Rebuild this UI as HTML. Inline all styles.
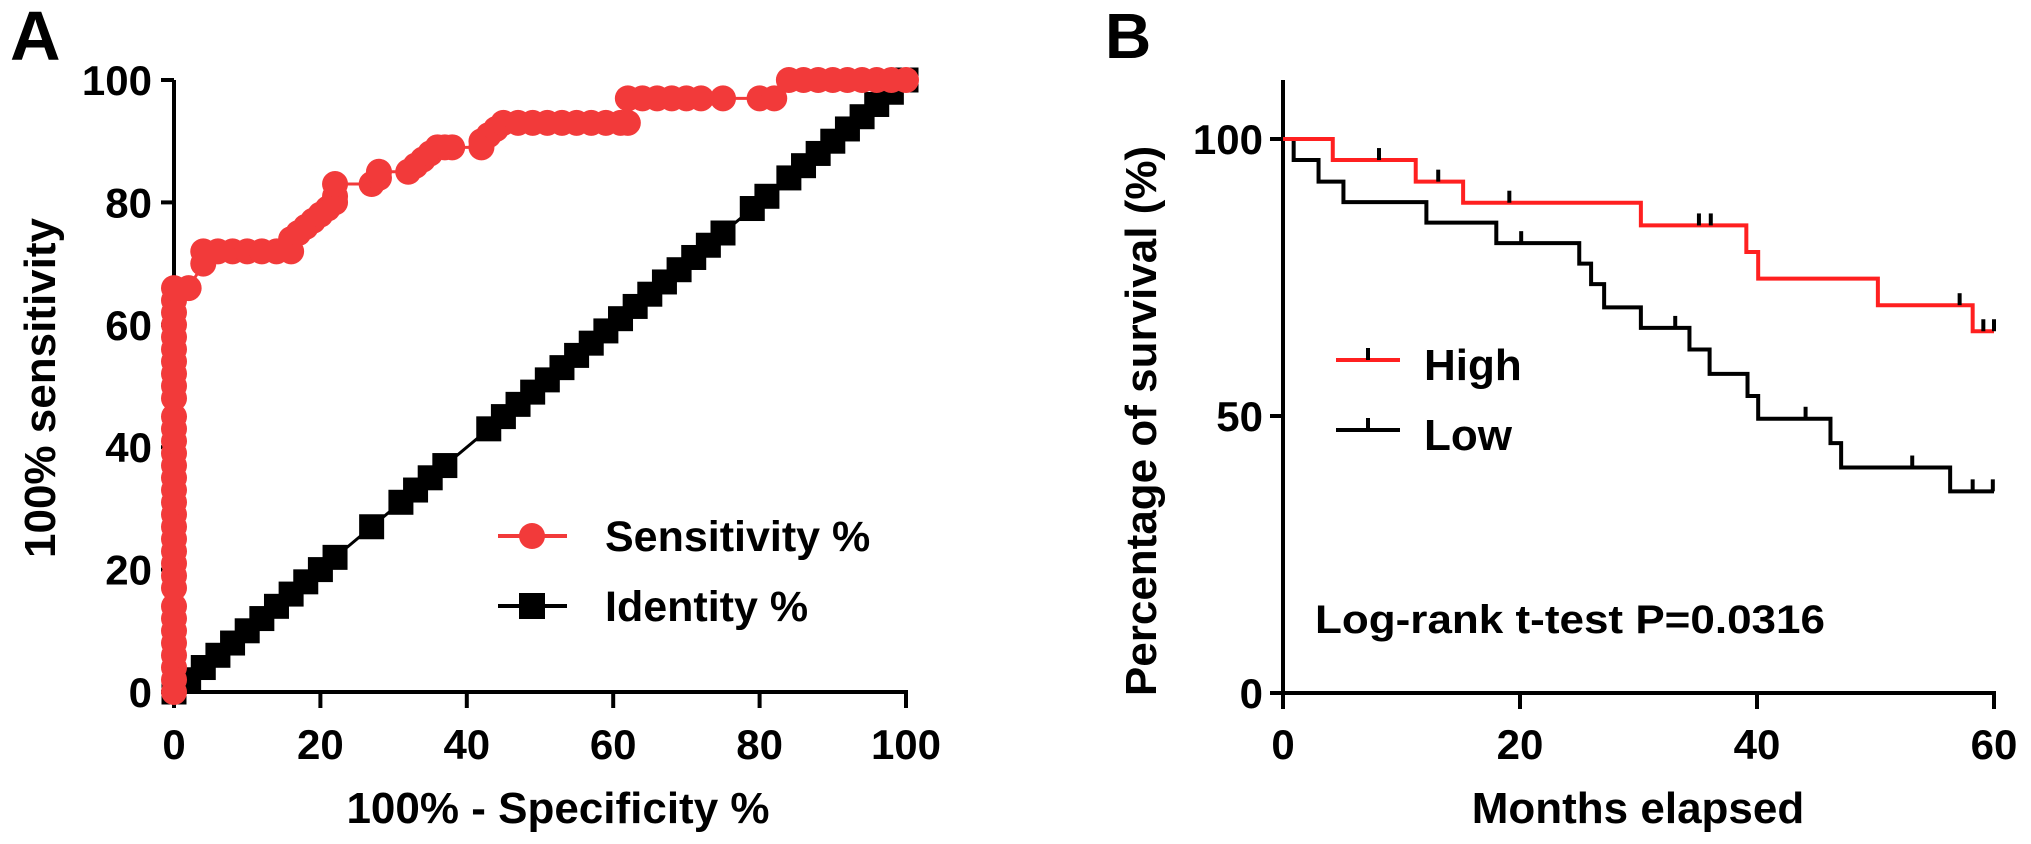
<!DOCTYPE html>
<html><head><meta charset="utf-8"><style>
html,body{margin:0;padding:0;background:#fff;}
svg{display:block;font-family:"Liberation Sans",Arial,sans-serif;font-weight:bold;}
</style></head><body>
<svg id="fig" width="2031" height="844" viewBox="0 0 2031 844" xmlns="http://www.w3.org/2000/svg">
<g id="panelA"></g>
<g id="panelB"></g>
</svg>
<script>
// ---- Panel A data (ROC) ----
const rocFpr = [0,0,0,0,0,0,0,0,0,0,0,0,0,0,0,0,0,0,0,0,0,0,0,0,0,0,0,0,0,0,0,0,0,2,4,4,6,8,10,12,14,16,16,17,18,19,20,21,22,22,22,27,28,28,32,33,34,35,36,37,38,42,42,43,44,45,47,49,51,53,55,57,59,61,62,62,64,66,68,70,72,75,80,82,84,86,88,90,92,94,96,98,100];
const rocTpr = [0,2,4,6,8,10,12,14,17,19,21,23,25,27,29,31,33,35,37,39,41,43,45,48,50,52,54,56,58,60,62,64,66,66,70,72,72,72,72,72,72,72,74,75,76,77,78,79,80,81,83,83,84,85,85,86,87,88,89,89,89,89,90,91,92,93,93,93,93,93,93,93,93,93,93,97,97,97,97,97,97,97,97,97,100,100,100,100,100,100,100,100,100];
const identityX = [0,2,4,6,8,10,12,14,16,18,20,22,27,31,33,35,37,43,45,47,49,51,53,55,57,59,61,63,65,67,69,71,73,75,79,81,84,86,88,90,92,94,96,98,100];
const rocTicks = [0,20,40,60,80,100];
// ---- Panel B data (Kaplan-Meier) ----
const highTimes  = [0,4.2,11.2,15.2,30.2,39.1,40.1,50.2,58.2,60];
const highLevels = [100,96.2,92.3,88.5,84.4,79.6,74.8,70.0,65.3,65.3];
const highCensor = [8.1,13.1,19.1,35.1,36.1,57.1,59.1,60];
const lowTimes  = [0,0.9,3.0,5.1,12.1,18.0,25.0,26.0,27.1,30.2,34.3,36.0,39.2,40.1,46.2,47.1,56.3,60];
const lowLevels = [100,96.2,92.3,88.6,84.9,81.2,77.5,73.8,69.6,65.9,62.0,57.6,53.6,49.5,45.1,40.7,36.4,36.4];
const lowCensor = [20.1,33.1,44.1,53.1,58.2,59.9];
const kmXTicks = [0,20,40,60];
const kmYTicks = [0,50,100];

const NS='http://www.w3.org/2000/svg';
function mk(parent,tag,attrs,text){const e=document.createElementNS(NS,tag);for(const k in attrs)e.setAttribute(k,attrs[k]);if(text!==undefined)e.textContent=text;parent.appendChild(e);return e;}

// ===== Panel A =====
const A=document.getElementById('panelA');
const ax=v=>174+7.32*v, ay=v=>692-6.12*v;
let t=mk(A,'text',{x:10,y:60,'font-size':70});


t.textContent='A';
let l=mk(A,'line',{x1:ax(0),y1:ay(100),x2:ax(0),y2:ay(0),stroke:'#000','stroke-width':4});


l=mk(A,'line',{x1:ax(0),y1:ay(0),x2:ax(100)+2,y2:ay(0),stroke:'#000','stroke-width':4});


rocTicks.forEach(v=>{
  let tk=mk(A,'line',{x1:ax(0)-13,y1:ay(v),x2:ax(0),y2:ay(v),stroke:'#000','stroke-width':4});
  
  
  let lb=mk(A,'text',{x:ax(0)-22,y:ay(v)+15,'font-size':42,'text-anchor':'end'},String(v));
  
  
  let tx=mk(A,'line',{x1:ax(v),y1:ay(0),x2:ax(v),y2:ay(0)+16,stroke:'#000','stroke-width':4});
  
  
  let lx=mk(A,'text',{x:ax(v),y:759,'font-size':42,'text-anchor':'middle'},String(v));
  
  
});
t=mk(A,'text',{x:558,y:823,'font-size':44,'text-anchor':'middle'},'100% - Specificity %');


t=mk(A,'text',{x:0,y:0,'font-size':44,'text-anchor':'middle',transform:'translate(55,388) rotate(-90)'},'100% sensitivity');


// identity line
let pts=identityX.map(v=>ax(v)+','+ay(v)).join(' ');
l=mk(A,'polyline',{points:pts,fill:'none',stroke:'#000','stroke-width':3});


identityX.forEach(v=>{
  let s=mk(A,'rect',{x:ax(v)-12.5,y:ay(v)-12.5,width:25,height:25,fill:'#000'});
  
  
});
pts=rocFpr.map((v,i)=>ax(v)+','+ay(rocTpr[i])).join(' ');
l=mk(A,'polyline',{points:pts,fill:'none',stroke:'#f23a3a','stroke-width':3});


rocFpr.forEach((v,i)=>{
  let c=mk(A,'circle',{cx:ax(v),cy:ay(rocTpr[i]),r:13,fill:'#f23a3a'});
  
  
});
// legend A
l=mk(A,'line',{x1:498,y1:536,x2:567,y2:536,stroke:'#f23a3a','stroke-width':4});


l=mk(A,'circle',{cx:532,cy:536,r:13,fill:'#f23a3a'});


t=mk(A,'text',{x:605,y:551,'font-size':43},'Sensitivity %');


l=mk(A,'line',{x1:498,y1:606,x2:567,y2:606,stroke:'#000','stroke-width':4});


l=mk(A,'rect',{x:519,y:593,width:26,height:26,fill:'#000'});


t=mk(A,'text',{x:605,y:621,'font-size':43},'Identity %');



// ===== Panel B =====
const B=document.getElementById('panelB');
const bx=v=>1283+11.85*v, by=v=>693-5.54*v;
t=mk(B,'text',{x:1105,y:58,'font-size':64},'B');


l=mk(B,'line',{x1:bx(0),y1:80,x2:bx(0),y2:by(0),stroke:'#000','stroke-width':4});


l=mk(B,'line',{x1:bx(0)-13,y1:by(0),x2:bx(60)+2,y2:by(0),stroke:'#000','stroke-width':4});


kmYTicks.forEach(v=>{
  let tk=mk(B,'line',{x1:bx(0)-13,y1:by(v),x2:bx(0),y2:by(v),stroke:'#000','stroke-width':4});
  
  
  let lb=mk(B,'text',{x:bx(0)-20,y:by(v)+15,'font-size':42,'text-anchor':'end'},String(v));
  
  
});
kmXTicks.forEach(v=>{
  let tx=mk(B,'line',{x1:bx(v),y1:by(0),x2:bx(v),y2:by(0)+16,stroke:'#000','stroke-width':4});
  
  
  let lx=mk(B,'text',{x:bx(v),y:759,'font-size':42,'text-anchor':'middle'},String(v));
  
  
});
t=mk(B,'text',{x:1638,y:823,'font-size':44,'text-anchor':'middle'},'Months elapsed');


t=mk(B,'text',{x:0,y:0,'font-size':44,'text-anchor':'middle',transform:'translate(1156,421) rotate(-90)'},'Percentage of survival (%)');


t=mk(B,'text',{x:1315,y:633,'font-size':40,textLength:510,lengthAdjust:'spacingAndGlyphs'},'Log-rank t-test P=0.0316');



function stepPath(times,levels){
  let d='M'+bx(times[0])+','+by(levels[0]);
  for(let i=1;i<times.length;i++){d+=' H'+bx(times[i])+' V'+by(levels[i]);}
  return d;
}
function levelAt(times,levels,tm){let v=levels[0];for(let i=0;i<times.length;i++){if(times[i]<=tm)v=levels[i];}return v;}
function drawKM(times,levels,censor,color,name){
  let p=mk(B,'path',{d:stepPath(times,levels),fill:'none',stroke:color,'stroke-width':4});
  
  
  censor.forEach(c=>{
    const yv=by(levelAt(times,levels,c));
    let m=mk(B,'line',{x1:bx(c),y1:yv-12,x2:bx(c),y2:yv,stroke:'#000','stroke-width':4});
    
    
  });
}
drawKM(lowTimes,lowLevels,lowCensor,'#000','low');
drawKM(highTimes,highLevels,highCensor,'#ff2020','high');
// legend B
l=mk(B,'line',{x1:1336,y1:360,x2:1400,y2:360,stroke:'#ff2020','stroke-width':4});


l=mk(B,'line',{x1:1368,y1:348,x2:1368,y2:360,stroke:'#000','stroke-width':4});


t=mk(B,'text',{x:1424,y:380,'font-size':44},'High');


l=mk(B,'line',{x1:1336,y1:430,x2:1400,y2:430,stroke:'#000','stroke-width':4});


l=mk(B,'line',{x1:1368,y1:418,x2:1368,y2:430,stroke:'#000','stroke-width':4});


t=mk(B,'text',{x:1424,y:450,'font-size':44},'Low');


</script>
</body></html>
